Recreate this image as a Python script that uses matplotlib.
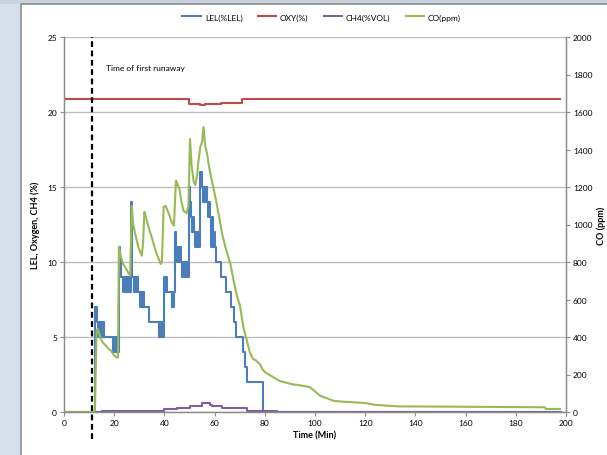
import matplotlib

matplotlib.use("Agg")
import matplotlib.pyplot as plt
from matplotlib.patches import Rectangle

plt.rcParams["font.family"] = ["Lato", "DejaVu Sans"]

# step series: (minute, value)
lel_steps = [
    (0, 0), (12.5, 7), (13.0, 6), (13.4, 5), (13.8, 6), (14.2, 5), (14.6, 6), (15.0, 5),
    (15.4, 6), (15.8, 5), (19.6, 4), (19.9, 5), (20.2, 4), (20.5, 5), (20.8, 4), (21.1, 5),
    (21.4, 4), (21.8, 11), (22.3, 10), (22.6, 9), (23.6, 8), (24.0, 9), (24.4, 8), (24.8, 9),
    (25.2, 8), (25.6, 9), (26.0, 8), (26.8, 14), (27.2, 9), (28.0, 8), (28.4, 9), (28.8, 8),
    (29.2, 9), (29.6, 8), (30.2, 7), (30.6, 8), (31.0, 7), (31.4, 8), (31.8, 7), (33.7, 6),
    (37.7, 5), (38.1, 6), (38.5, 5), (38.9, 6), (39.3, 5), (39.7, 9), (40.1, 8), (40.5, 9),
    (40.9, 8), (42.9, 7), (43.2, 8), (43.5, 7), (43.8, 8), (44.3, 12), (44.6, 11), (45.0, 10),
    (45.4, 11), (45.8, 10), (46.2, 11), (46.6, 10), (47.0, 9), (47.4, 10), (47.8, 9),
    (48.2, 10), (48.6, 9), (49.0, 10), (49.4, 9), (49.8, 15), (50.2, 14), (50.6, 13),
    (51.0, 12), (51.4, 13), (51.8, 12), (52.2, 11), (52.6, 12), (53.0, 11), (53.4, 12),
    (53.8, 11), (54.3, 16), (54.8, 15), (55.2, 14), (55.6, 15), (56.0, 14), (56.4, 15),
    (56.8, 14), (57.2, 13), (57.6, 14), (58.0, 13), (58.4, 11), (58.8, 13), (59.2, 11),
    (59.6, 12), (60.0, 11), (60.6, 10), (62.6, 9), (64.6, 8), (66.6, 7), (67.9, 6),
    (68.5, 5), (71.2, 4), (72.1, 3), (73.0, 2), (79.2, 0), (198, 0),
]
oxy_steps = [
    (0, 20.87), (49.9, 20.53), (54.0, 20.47), (56.0, 20.53), (62.4, 20.6),
    (70.8, 20.87), (197.6, 20.87),
]
ch4_steps = [
    (0, 0), (15.0, 0.1), (40.0, 0.2), (45.0, 0.3), (50.0, 0.4), (55.0, 0.6), (58.0, 0.5),
    (59.0, 0.4), (63.0, 0.3), (73.0, 0.1), (85.0, 0), (196.0, 0),
]
co_points = [
    (0, 0), (12.3, 0), (12.6, 200), (13.0, 434), (13.4, 443), (14.0, 420), (14.7, 389),
    (15.5, 370), (16.7, 354), (17.5, 340), (18.7, 327), (19.8, 305), (20.8, 292), (21.5, 290),
    (21.9, 880), (22.6, 830), (23.5, 790), (24.4, 773), (25.5, 745), (26.4, 727), (27.0, 1100),
    (27.5, 1010), (28.2, 960), (29.6, 880), (31.0, 834), (31.5, 900), (32.0, 1067),
    (32.6, 1040), (33.5, 994), (35.0, 930), (36.5, 860), (38.5, 789), (39.0, 800),
    (39.7, 1093), (40.5, 1100), (41.8, 1056), (43.0, 1010), (43.8, 994), (44.6, 1234),
    (45.3, 1210), (46.0, 1190), (46.8, 1120), (47.6, 1074), (48.8, 1060), (49.6, 1100),
    (50.2, 1456), (50.8, 1323), (51.6, 1234), (52.3, 1210), (53.0, 1260), (53.5, 1330),
    (54.3, 1413), (55.0, 1440), (55.6, 1520), (56.3, 1413), (57.0, 1378), (57.6, 1323),
    (58.9, 1234), (60.3, 1147), (61.6, 1056), (63.0, 949), (64.3, 880), (66.3, 789),
    (67.6, 700), (68.9, 620), (70.1, 567), (71.5, 450), (72.7, 389), (74.0, 320), (75.3, 283),
    (76.5, 275), (78.0, 256), (79.0, 230), (80.0, 213), (82.6, 192), (86.0, 165), (90.6, 149),
    (95.0, 140), (98.0, 132), (100.0, 110), (102.0, 87), (105.0, 72), (107.3, 60), (111.0, 55),
    (115.3, 52), (120.0, 48), (124.0, 38), (133.0, 30), (160.0, 28), (191.6, 25), (192.0, 16),
    (197.6, 16),
]
runaway_min = 11.2
series_names = ["LEL(%LEL)", "OXY(%)", "CH4(%VOL)", "CO(ppm)"]
colors = ["#4a7ebb", "#be4b48", "#7d60a0", "#98b954"]

W, H = 607, 456
fig = plt.figure(figsize=(W / 100, H / 100), dpi=100, facecolor="#d6e0ec")
fig.patches.append(Rectangle((0, (H - 5) / H), 1, 5 / H, transform=fig.transFigure,
                             facecolor="#c9d2dc", edgecolor="none", zorder=-10))
fig.patches.append(Rectangle((21 / W, -0.01), 1, (H - 5) / H + 0.01, transform=fig.transFigure,
                             facecolor="white", edgecolor="#8c8c8c", lw=1.2, zorder=-10))

ax = fig.add_axes([64 / W, (H - 413) / H, (566 - 64) / W, (413 - 38) / H])
ax.set_facecolor("none")
ax2 = ax.twinx()


def unzip(pairs):
    return [p[0] for p in pairs], [p[1] for p in pairs]


t, v = unzip(lel_steps)
ax.step(t, v, where="post", color=colors[0], lw=1.5, label=series_names[0])
t, v = unzip(oxy_steps)
ax.step(t, v, where="post", color=colors[1], lw=1.5, label=series_names[1])
t, v = unzip(ch4_steps)
ax.step(t, v, where="post", color=colors[2], lw=1.5, label=series_names[2])
t, v = unzip(co_points)
ax2.plot(t, v, color=colors[3], lw=1.5, label=series_names[3])

ax.plot([runaway_min, runaway_min], [-1.8, 25], color="black", lw=1.6,
        linestyle=(0, (2.6, 1.6)), clip_on=False, zorder=5)
ax.text(16.7, 23.0, "Time of first runaway", fontsize=6, va="center", ha="left")

ax.set_xlim(0, 200)
ax.set_ylim(0, 25)
ax2.set_ylim(0, 2000)
ax.set_xticks(range(0, 201, 20))
ax.set_yticks(range(0, 26, 5))
ax2.set_yticks(range(0, 2001, 200))
for a in (ax, ax2):
    a.tick_params(labelsize=6, length=3, width=0.8, color="#8c8c8c", pad=2)
    a.spines["top"].set_visible(False)
    for s in ("left", "right", "bottom"):
        a.spines[s].set_color("#8c8c8c")
        a.spines[s].set_linewidth(0.9)
ax.yaxis.grid(True, color="#bdbdbd", lw=1.0)
ax.set_axisbelow(True)

ax.set_xlabel("Time (Min)", fontsize=6.5, fontweight="bold", labelpad=3)
ax.set_ylabel("LEL, Oxygen, CH4 (%)", fontsize=6.5, fontweight="bold", labelpad=5)
ax2.set_ylabel("CO (ppm)", fontsize=6.5, fontweight="bold", labelpad=3)

h1, l1 = ax.get_legend_handles_labels()
h2, l2 = ax2.get_legend_handles_labels()
fig.legend(h1 + h2, l1 + l2, loc="upper center", bbox_to_anchor=(0.53, 0.985), ncol=4,
           frameon=False, fontsize=6, handlelength=2.2, columnspacing=1.8, handletextpad=0.5)

fig.savefig("out.png", dpi=100, facecolor=fig.get_facecolor())
